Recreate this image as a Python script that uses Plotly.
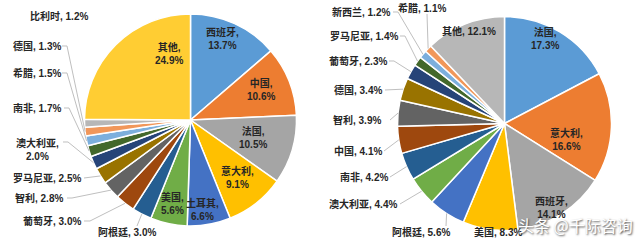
import math
import plotly.graph_objects as go

# ---------------- data ----------------
left_labels = ["西班牙", "中国", "法国", "意大利", "土耳其", "美国", "阿根廷", "葡萄牙",
               "智利", "罗马尼亚", "澳大利亚", "南非", "希腊", "德国", "比利时", "其他"]
left_values = [13.7, 10.6, 10.5, 9.1, 6.6, 5.6, 3.0, 3.0, 2.8, 2.5, 2.0, 1.7, 1.5, 1.3, 1.2, 24.9]

right_labels = ["法国", "意大利", "西班牙", "美国", "阿根廷", "澳大利亚", "南非", "中国",
                "智利", "德国", "葡萄牙", "罗马尼亚", "新西兰", "希腊", "其他"]
right_values = [17.3, 16.6, 14.1, 8.3, 5.6, 4.4, 4.2, 4.1, 3.9, 3.4, 2.3, 1.4, 1.2, 1.1, 12.1]

palette = ["#5B9BD5", "#ED7D31", "#A5A5A5", "#FFC000", "#4472C4", "#70AD47",
           "#255E91", "#9E480E", "#636363", "#997300", "#264478", "#43682B",
           "#7CAFDD", "#F1975A", "#B7B7B7", "#FFCD33"]
left_colors = palette[:16]
right_colors = palette[:14] + ["#B7B7B7"]

W, H = 640, 241
# pie geometry (pixels)
LEFT = dict(cx=190.5, cy=120.0, r=106.0)
RIGHT = dict(cx=504.5, cy=123.5, r=107.0)

# label layout: name -> (center_x, center_y, two_line, leader points or None)
left_layout = {
    "其他": (169, 53, True, None),
    "西班牙": (222, 39, True, None),
    "中国": (261, 89, True, None),
    "法国": (253, 137, True, None),
    "意大利": (237, 177, True, None),
    "土耳其": (202, 209, True, None),
    "美国": (172, 203, True, None),
    "阿根廷": (127, 232, False, [(137, 226)]),
    "葡萄牙": (52, 221, False, [(84, 221), (90, 221)]),
    "智利": (39, 198, False, [(67, 198), (72, 198)]),
    "罗马尼亚": (47, 178, False, [(84, 178)]),
    "澳大利亚": (37, 149, True, [(63, 142), (68, 142)]),
    "南非": (37, 108, False, [(64, 108), (69, 108)]),
    "希腊": (37, 73, False, [(62, 73), (67, 73)]),
    "德国": (37, 46, False, [(62, 46), (67, 46)]),
    "比利时": (59, 16, False, None),
}
right_layout = {
    "法国": (545, 39, True, None),
    "意大利": (566, 139, True, None),
    "西班牙": (551, 207, True, None),
    "其他": (469, 31, False, None),
    "美国": (498, 232, False, None),
    "阿根廷": (421, 232, False, [(446, 226)]),
    "澳大利亚": (363, 204, False, [(400, 204)]),
    "南非": (364, 177, False, [(390, 177)]),
    "中国": (358, 151, False, [(384, 151)]),
    "智利": (357, 120, False, [(390, 120)]),
    "德国": (358, 90, False, [(385, 90)]),
    "葡萄牙": (358, 61, False, [(389, 61), (394, 61)]),
    "罗马尼亚": (364, 36, False, [(400, 36), (405, 36)]),
    "新西兰": (361, 12, False, [(393, 12), (398, 12)]),
    "希腊": (422, 8, False, [(427, 14)]),
}


def px(x):
    return x / W


def py(y):
    return 1 - y / H


def domain(g):
    return dict(x=[px(g["cx"] - g["r"]), px(g["cx"] + g["r"])],
                y=[py(g["cy"] + g["r"]), py(g["cy"] - g["r"])])


def edge_point(values, idx, g):
    total = sum(values)
    mid = sum(values[:idx]) + values[idx] / 2
    th = 2 * math.pi * mid / total
    return (g["cx"] + g["r"] * math.sin(th), g["cy"] - g["r"] * math.cos(th))


fig = go.Figure()
for labels, values, colors, g in [(left_labels, left_values, left_colors, LEFT),
                                  (right_labels, right_values, right_colors, RIGHT)]:
    fig.add_trace(go.Pie(
        labels=labels, values=values, sort=False, direction="clockwise", rotation=0,
        marker=dict(colors=colors, line=dict(color="white", width=1.5)),
        textinfo="none", hoverinfo="label+percent", domain=domain(g), showlegend=False,
    ))

FONT = "Liberation Sans, Arial, Noto Sans CJK SC, sans-serif"
annotations = []
shapes = []
for labels, values, lay, g in [(left_labels, left_values, left_layout, LEFT),
                               (right_labels, right_values, right_layout, RIGHT)]:
    for i, name in enumerate(labels):
        cx, cy, two, lead = lay[name]
        pct = f"{values[i]:.1f}%"
        sep = "<br>" if two else " "
        annotations.append(dict(
            x=px(cx), y=py(cy), xref="paper", yref="paper",
            text=f"<b>{name},{sep}{pct}</b>", showarrow=False,
            font=dict(family=FONT, size=10, color="#262626"),
            xanchor="center", yanchor="middle", align="center",
        ))
        if lead:
            pts = list(lead) + [edge_point(values, i, g)]
            path = "M " + " L ".join(f"{px(x):.5f},{py(y):.5f}" for x, y in pts)
            shapes.append(dict(type="path", path=path, xref="paper", yref="paper",
                               line=dict(color="#BFBFBF", width=1)))

annotations.append(dict(
    x=px(575), y=py(225), xref="paper", yref="paper", text="头条 @千际咨询",
    showarrow=False, font=dict(family="Noto Sans CJK SC", size=16, color="white",
                               shadow="1px 1px 2px #444"),
    xanchor="center", yanchor="middle",
))

fig.update_layout(
    width=W, height=H, margin=dict(l=0, r=0, t=0, b=0),
    paper_bgcolor="white", plot_bgcolor="white",
    annotations=annotations, shapes=shapes,
)
fig.write_html("out.html")
